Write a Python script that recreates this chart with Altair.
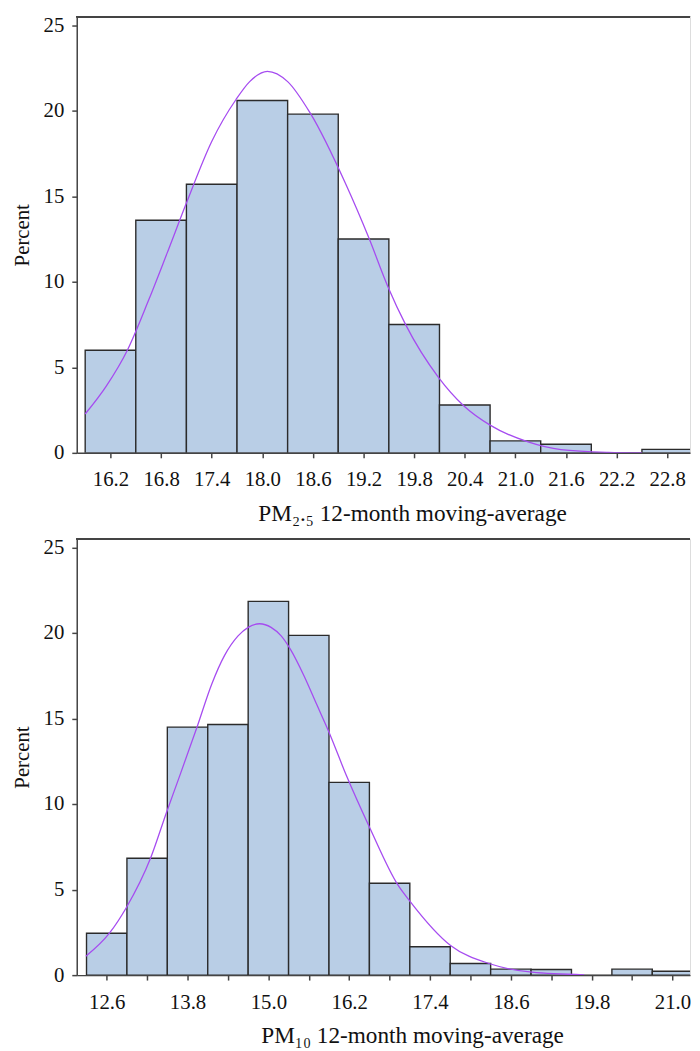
import altair as alt
import pandas as pd

# ---------------- data ----------------
bin_width = 0.6

pm25_centers = [16.2, 16.8, 17.4, 18.0, 18.6, 19.2, 19.8, 20.4, 21.0, 21.6, 22.2, 22.8]
pm25_percent = [6.0, 13.6, 15.7, 20.6, 19.8, 12.5, 7.5, 2.8, 0.7, 0.5, 0.0, 0.2]

pm25_curve_x = [15.90, 16.15, 16.40, 16.65, 16.87, 17.10, 17.40, 17.69, 17.85, 18.06,
                18.30, 18.57, 18.99, 19.26, 19.49, 19.70, 20.09, 20.39, 20.70, 21.15,
                21.54, 22.10, 22.50]
pm25_curve_y = [2.27, 3.9, 6.0, 8.9, 11.66, 14.6, 18.2, 20.67, 21.7, 22.3,
                21.7, 19.84, 15.7, 12.6, 9.7, 7.48, 4.4, 2.74, 1.62, 0.64,
                0.19, 0.03, 0.0]

pm10_centers = [12.6, 13.2, 13.8, 14.4, 15.0, 15.6, 16.2, 16.8, 17.4, 18.0,
                18.6, 19.2, 19.8, 20.4, 21.0]
pm10_percent = [2.45, 6.83, 14.5, 14.65, 21.85, 19.86, 11.27, 5.37, 1.66, 0.68,
                0.35, 0.33, 0.0, 0.35, 0.23]

pm10_curve_x = [12.29, 12.64, 12.89, 13.25, 13.49, 13.67, 13.94, 14.16, 14.35, 14.55,
                14.70, 14.87, 15.04, 15.19, 15.33, 15.53, 15.72, 15.90, 16.16, 16.51,
                16.92, 17.10, 17.71, 18.30, 18.91, 19.69]
pm10_curve_y = [1.1, 2.45, 3.94, 6.83, 9.54, 11.5, 14.49, 17.02, 18.69, 19.83,
                20.33, 20.54, 20.33, 19.83, 19.03, 17.49, 15.8, 14.2, 11.65, 8.57,
                5.29, 4.33, 1.72, 0.65, 0.17, 0.02]

pm25_ticks = [16.2, 16.8, 17.4, 18.0, 18.6, 19.2, 19.8, 20.4, 21.0, 21.6, 22.2, 22.8]
pm25_tick_labels = ["16.2", "16.8", "17.4", "18.0", "18.6", "19.2", "19.8", "20.4",
                    "21.0", "21.6", "22.2", "22.8"]
pm10_ticks = [12.6, 13.2, 13.8, 14.4, 15.0, 15.6, 16.2, 16.8, 17.4, 18.0, 18.6,
              19.2, 19.8, 20.4, 21.0]
pm10_tick_labels = ["12.6", "", "13.8", "", "15.0", "", "16.2", "", "17.4", "",
                    "18.6", "", "19.8", "", "21.0"]

y_ticks = [0, 5, 10, 15, 20, 25]

pm25_title = "PM\u2082.\u2085 12-month moving-average"
pm10_title = "PM\u2081\u2080 12-month moving-average"

# ---------------- styling ----------------
FONT = "Liberation Serif"
TITLE_FONT = "Liberation Serif, DejaVu Serif, serif"
BAR_FILL = "#b9cee6"
BAR_STROKE = "#2b2b2b"
CURVE = "#a64cf0"
AXIS_COL = "#444444"
TEXT_COL = "#111111"
W = 620
H = 441


def label_expr(values, labels):
    expr = "''"
    for v, lab in reversed(list(zip(values, labels))):
        expr = f"abs(datum.value - {v}) < 0.01 ? '{lab}' : ({expr})"
    return expr


def panel(centers, pct, cx, cy, xdomain, ticks, tick_labels, title):
    bars_df = pd.DataFrame({"center": centers, "pct": pct})
    curve_df = pd.DataFrame({"x": cx, "y": cy})

    xscale = alt.Scale(domain=xdomain, nice=False, zero=False)
    yscale = alt.Scale(domain=[0, 25.5], nice=False)

    xaxis = alt.Axis(
        values=ticks, labelExpr=label_expr(ticks, tick_labels), title=title,
        labelFont=FONT, labelFontSize=21, labelColor=TEXT_COL, labelPadding=11.5,
        titleFont=TITLE_FONT, titleFontSize=23.5, titleFontWeight="normal",
        titleColor=TEXT_COL, titlePadding=11.5, titleX=339, titleAnchor="middle",
        tickSize=5, tickColor=AXIS_COL, tickWidth=1.5,
        domainColor=AXIS_COL, domainWidth=1.5, grid=False, labelFlush=False,
    )
    yaxis = alt.Axis(
        values=y_ticks, title="Percent",
        labelFont=FONT, labelFontSize=21, labelColor=TEXT_COL, labelPadding=8,
        titleFont=FONT, titleFontSize=21, titleFontWeight="normal", titleColor=TEXT_COL,
        titlePadding=10.5,
        tickSize=5, tickColor=AXIS_COL, tickWidth=1.5,
        domainColor=AXIS_COL, domainWidth=1.5, grid=False,
    )

    bars = alt.Chart(bars_df).transform_calculate(
        lo=f"datum.center - {bin_width / 2}", hi=f"datum.center + {bin_width / 2}"
    ).mark_rect(fill=BAR_FILL, stroke=BAR_STROKE, strokeWidth=1.4, clip=True).encode(
        x=alt.X("lo:Q", scale=xscale, axis=xaxis),
        x2="hi:Q",
        y=alt.Y("pct:Q", scale=yscale, axis=yaxis),
        y2=alt.datum(0),
    )
    curve = alt.Chart(curve_df).mark_line(
        color=CURVE, strokeWidth=1.3, interpolate="monotone", clip=True
    ).encode(x=alt.X("x:Q", scale=xscale), y=alt.Y("y:Q", scale=yscale))

    frame_top = alt.Chart(bars_df).mark_rule(color=AXIS_COL, strokeWidth=1.5).encode(
        x=alt.value(0), x2=alt.value(W), y=alt.value(0)
    )
    return alt.layer(bars, curve, frame_top).properties(width=W, height=H)


top = panel(pm25_centers, pm25_percent, pm25_curve_x, pm25_curve_y,
            [15.80, 23.07], pm25_ticks, pm25_tick_labels, pm25_title)
bottom = panel(pm10_centers, pm10_percent, pm10_curve_x, pm10_curve_y,
               [12.155, 21.26], pm10_ticks, pm10_tick_labels, pm10_title)

chart = alt.vconcat(top, bottom, spacing=11).properties(
    padding={"left": 3.5, "top": 0, "right": 0, "bottom": 0}
).configure_view(stroke=None).configure(background="white")

chart.save("out.html", embed_options={"renderer": "svg", "actions": False})
